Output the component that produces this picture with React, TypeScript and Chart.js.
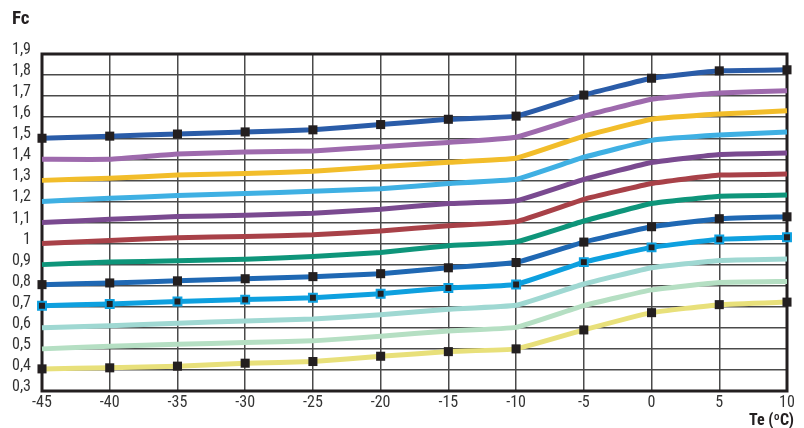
import React, { useEffect, useRef } from "react";
import { Chart, registerables } from "chart.js";
Chart.register(...registerables);

const temps = [-45, -40, -35, -30, -25, -20, -15, -10, -5, 0, 5, 10];
const s15 = [1.5, 1.51, 1.52, 1.53, 1.54, 1.565, 1.59, 1.605, 1.705, 1.785, 1.82, 1.825];
const s14 = [1.4, 1.4, 1.425, 1.435, 1.44, 1.46, 1.48, 1.505, 1.605, 1.685, 1.715, 1.725];
const s13 = [1.3, 1.31, 1.325, 1.333, 1.343, 1.365, 1.386, 1.405, 1.51, 1.59, 1.615, 1.63];
const s12 = [1.2, 1.215, 1.228, 1.238, 1.248, 1.26, 1.285, 1.305, 1.41, 1.49, 1.515, 1.53];
const s11 = [1.1, 1.115, 1.128, 1.134, 1.144, 1.163, 1.19, 1.203, 1.305, 1.385, 1.423, 1.43];
const s10 = [1.0, 1.015, 1.028, 1.033, 1.042, 1.06, 1.085, 1.104, 1.21, 1.285, 1.325, 1.33];
const s09 = [0.9, 0.912, 0.918, 0.925, 0.938, 0.958, 0.99, 1.008, 1.107, 1.19, 1.225, 1.23];
const s08 = [0.805, 0.813, 0.823, 0.833, 0.843, 0.857, 0.885, 0.91, 1.007, 1.08, 1.118, 1.127];
const s07 = [0.705, 0.713, 0.725, 0.734, 0.743, 0.762, 0.789, 0.806, 0.912, 0.982, 1.02, 1.03];
const s06 = [0.6, 0.61, 0.622, 0.632, 0.642, 0.662, 0.688, 0.707, 0.808, 0.885, 0.92, 0.927];
const s05 = [0.5, 0.512, 0.522, 0.53, 0.538, 0.56, 0.585, 0.602, 0.705, 0.78, 0.815, 0.82];
const s04 = [0.405, 0.41, 0.418, 0.432, 0.44, 0.465, 0.487, 0.5, 0.59, 0.672, 0.71, 0.722];

const yTitle = "Fc";
const xTitle = "Te (ºC)";

const FONT = "'Roboto Condensed', 'Liberation Sans Narrow', 'DejaVu Sans Condensed', 'Roboto', sans-serif";

type S = { data: number[]; color: string; marker?: "big" | "small" };
const seriesList: S[] = [
  { data: s15, color: "#2a5ca8", marker: "big" },
  { data: s14, color: "#9e6aad" },
  { data: s13, color: "#f2bd2a" },
  { data: s12, color: "#3fb0e3" },
  { data: s11, color: "#7a4a90" },
  { data: s10, color: "#a84148" },
  { data: s09, color: "#0e957a" },
  { data: s08, color: "#1f68b3", marker: "big" },
  { data: s07, color: "#0ea0df", marker: "small" },
  { data: s06, color: "#9fd8d2" },
  { data: s05, color: "#b5dfc3" },
  { data: s04, color: "#e8e07a", marker: "big" },
];

export default function App() {
  const ref = useRef<HTMLCanvasElement>(null);
  useEffect(() => {
    const framePlugin = {
      id: "frame",
      beforeDatasetsDraw(chart: any) {
        const { ctx, chartArea: a } = chart;
        ctx.save();
        ctx.strokeStyle = "#231f20";
        ctx.lineWidth = 3;
        ctx.strokeRect(a.left, a.top, a.right - a.left, a.bottom - a.top);
        ctx.restore();
      },
      afterDraw(chart: any) {
        const { ctx } = chart;
        ctx.save();
        ctx.fillStyle = "#231f20";
        ctx.textBaseline = "alphabetic";
        ctx.font = `bold 19px ${FONT}`;
        ctx.textAlign = "left";
        ctx.fillText(yTitle, 12, 24);
        ctx.font = `bold 16px ${FONT}`;
        ctx.textAlign = "right";
        ctx.fillText(xTitle, 794, 425);
        ctx.restore();
      },
    };
    const datasets = seriesList.map((s) => ({
      data: temps.map((t, i) => ({ x: t, y: s.data[i] })),
      borderColor: s.color,
      backgroundColor: s.color,
      borderWidth: 5,
      tension: 0.1,
      pointStyle: "rect" as const,
      pointRadius: s.marker === "big" ? 6.4 : s.marker === "small" ? 5.6 : 0,
      pointBorderWidth: s.marker === "small" ? 2 : 0,
      pointBackgroundColor: "#231f20",
      pointBorderColor: s.marker === "small" ? s.color : "#231f20",
      clip: false as const,
    }));
    const chart = new Chart(ref.current!, {
      type: "line",
      data: { datasets },
      plugins: [framePlugin],
      options: {
        animation: false,
        responsive: false,
        maintainAspectRatio: false,
        layout: { padding: { left: 0, right: 17, top: 54, bottom: 0 } },
        plugins: { legend: { display: false }, tooltip: { enabled: false } },
        scales: {
          x: {
            type: "linear",
            min: -45,
            max: 10,
            border: { display: false },
            grid: { color: "#4a4a4a", lineWidth: 1.5, drawTicks: false },
            ticks: {
              stepSize: 5,
              autoSkip: false,
              maxRotation: 0,
              padding: 2,
              color: "#333",
              font: { family: FONT, size: 16 },
            },
            afterFit(scale: any) {
              scale.height = 37;
            },
          },
          y: {
            type: "linear",
            min: 0.3,
            max: 1.9,
            border: { display: false },
            grid: { color: "#4a4a4a", lineWidth: 1.5, drawTicks: false },
            ticks: {
              stepSize: 0.1,
              autoSkip: false,
              padding: 11,
              labelOffset: -4,
              color: "#333",
              font: { family: FONT, size: 16 },
              callback: (v: any) => {
                const n = Math.round(Number(v) * 10) / 10;
                return (Number.isInteger(n) ? String(n) : n.toFixed(1)).replace(".", ",");
              },
            },
            afterFit(scale: any) {
              scale.width = 42;
            },
          },
        },
      },
    });
    return () => chart.destroy();
  }, []);
  return (
    <div style={{ position: "fixed", left: 0, top: 0, width: 804, height: 428, background: "#fff" }}>
      <canvas ref={ref} width={804} height={428} style={{ width: 804, height: 428 }} />
    </div>
  );
}
